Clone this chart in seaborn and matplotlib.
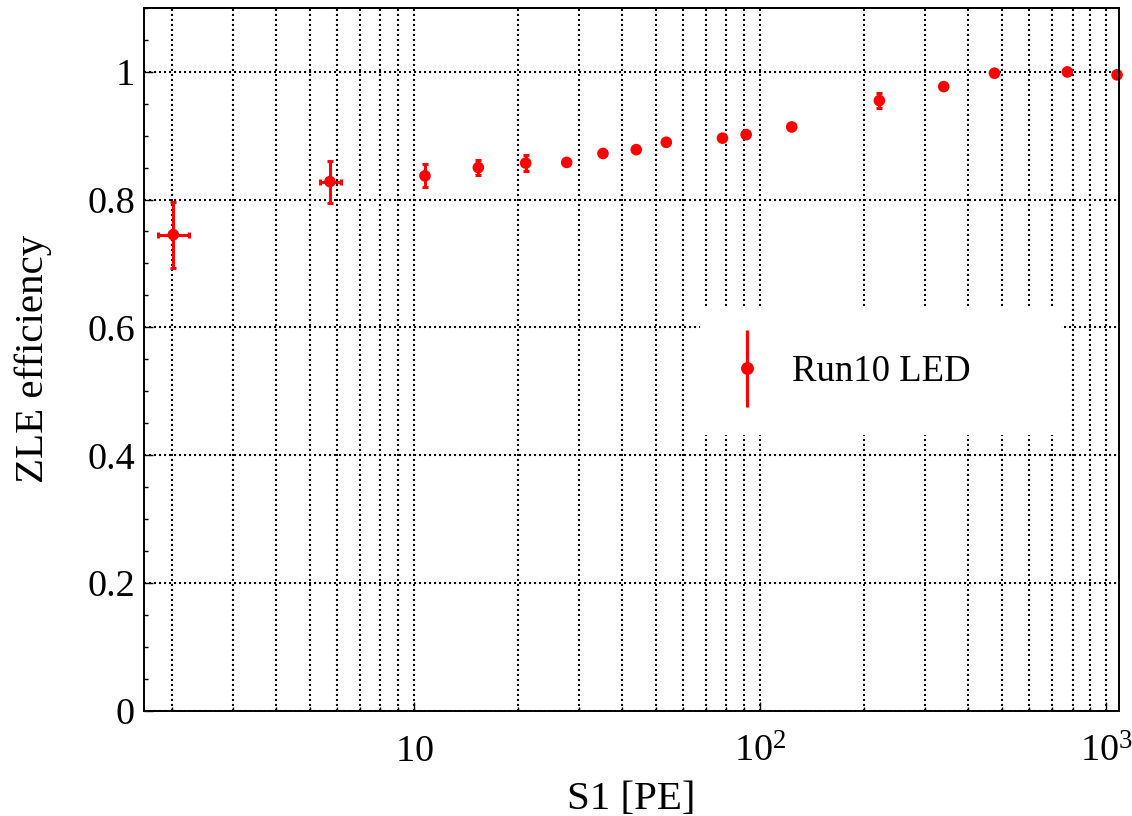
import numpy as np
import matplotlib
matplotlib.use("Agg")
import matplotlib.pyplot as plt
import seaborn as sns
from matplotlib.patches import Rectangle
from matplotlib.legend_handler import HandlerErrorbar
from matplotlib.ticker import FixedLocator, LogLocator, NullFormatter

# ---- data ----
s1_pe = [2.016, 5.716, 10.76, 15.35, 21.03, 27.63, 35.17, 43.9, 53.6, 77.9,
         91.2, 123.5, 221.3, 339.5, 476.0, 773.0, 1076.0]
zle_eff = [0.745, 0.828, 0.837, 0.850, 0.857, 0.858, 0.872, 0.878, 0.8895, 0.896,
           0.9015, 0.9135, 0.9547, 0.9766, 0.9975, 0.9995, 0.995]
eff_err = [0.0515, 0.033, 0.018, 0.012, 0.013, 0.004, 0.004, 0.004, 0.004, 0.004,
           0.004, 0.004, 0.0117, 0.004, 0.004, 0.004, 0.004]
s1_err_lo = [0.195, 0.366, 0, 0, 0, 0, 0, 0, 0, 0, 0, 0, 0, 0, 0, 0, 0]
s1_err_hi = [0.215, 0.436, 0, 0, 0, 0, 0, 0, 0, 0, 0, 0, 0, 0, 0, 0, 0]
x_ticks = [10, 100, 1000]
x_tick_labels = [r"$\mathregular{10}$", r"$\mathregular{10^{2}}$", r"$\mathregular{10^{3}}$"]
y_ticks = [0, 0.2, 0.4, 0.6, 0.8, 1.0]
y_tick_labels = ["0", "0.2", "0.4", "0.6", "0.8", "1"]
series_label = "Run10 LED"
x_label = "S1 [PE]"
y_label = "ZLE efficiency"

sns.set_theme(style="ticks")
plt.rcParams["font.family"] = ["Liberation Serif", "DejaVu Serif"]
plt.rcParams["mathtext.fontset"] = "custom"
plt.rcParams["mathtext.rm"] = "Liberation Serif"
plt.rcParams["mathtext.it"] = "Liberation Serif:italic"
plt.rcParams["mathtext.bf"] = "Liberation Serif:bold"
plt.rcParams["text.color"] = "black"
plt.rcParams["axes.labelcolor"] = "black"
plt.rcParams["xtick.color"] = "black"
plt.rcParams["ytick.color"] = "black"

fig = plt.figure(figsize=(11.32, 8.16), dpi=100)
ax = fig.add_axes([144 / 1132, 1 - 711 / 816, (1119 - 144) / 1132, (711 - 7.7) / 816])
ax.set_xscale("log")

# error bars
ax.errorbar(s1_pe, zle_eff, yerr=eff_err, xerr=[s1_err_lo, s1_err_hi], fmt="none",
            ecolor="red", elinewidth=2.2, capsize=2.0, capthick=2.2, zorder=2.5,
            clip_on=False)
# markers
sns.scatterplot(x=s1_pe, y=zle_eff, color="red", s=70, linewidth=0, edgecolor="none",
                zorder=3, ax=ax, legend=False, clip_on=False)

# legend proxy
proxy = ax.errorbar([np.nan], [np.nan], yerr=[1.0], fmt="o", color="red", ms=8.3,
                    elinewidth=2.3, capsize=0, label=series_label)

ax.set_xlim(1.659, 1090)
ax.set_ylim(0, 1.1)

# grid
grid_style = dict(color="black", linestyle=(0, (1, 1.4)), linewidth=1.5)
ax.set_axisbelow(True)
ax.xaxis.set_major_locator(FixedLocator(x_ticks))
ax.xaxis.set_minor_locator(LogLocator(base=10, subs=np.arange(2, 10)))
ax.xaxis.set_minor_formatter(NullFormatter())
ax.set_xticks(x_ticks, x_tick_labels)
ax.set_yticks(y_ticks, y_tick_labels)
ax.yaxis.set_minor_locator(FixedLocator(np.arange(0, 1.1001, 0.05)))
ax.grid(which="major", axis="both", **grid_style)
ax.grid(which="minor", axis="x", **grid_style)

ax.tick_params(axis="both", which="both", direction="in", top=False, right=False,
               colors="black", width=1.0, labelsize=27.5, labelcolor="black")
ax.tick_params(axis="both", which="major", length=6.7)
ax.tick_params(axis="both", which="minor", length=3.1)
ax.tick_params(axis="x", which="major", pad=36)
ax.tick_params(axis="y", which="major", pad=6.5)
for lbl in ax.get_xticklabels():
    lbl.set_va("baseline")

for sp in ax.spines.values():
    sp.set_linewidth(1.4)
    sp.set_color("black")
    sp.set_zorder(6)

ax.set_xlabel(x_label, fontsize=29.5, color="black")
ax.set_ylabel(y_label, fontsize=29.5, color="black")
ax.xaxis.label.set_va("baseline")
ax.yaxis.label.set_va("baseline")
ax.xaxis.set_label_coords(0.5, (711 - 809) / 703.3)
ax.yaxis.set_label_coords((43 - 144) / 975, 0.5)

# legend box (white, no border)
ax.add_patch(Rectangle((0.5703, 0.3924), 0.3702, 0.182, transform=ax.transAxes,
                       facecolor="white", edgecolor="none", zorder=4))
leg = ax.legend(handles=[proxy], labels=[series_label], loc="center left",
                bbox_to_anchor=((710.6 - 144) / 975, (711 - 372) / 703.3),
                frameon=False, fontsize=26.5, borderpad=0, handlelength=1.0,
                handletextpad=0.72, numpoints=1, labelcolor="black",
                handler_map={type(proxy): HandlerErrorbar(yerr_size=1.05)})
leg.set_zorder(7)

fig.savefig("out.png", dpi=100, facecolor="white")
